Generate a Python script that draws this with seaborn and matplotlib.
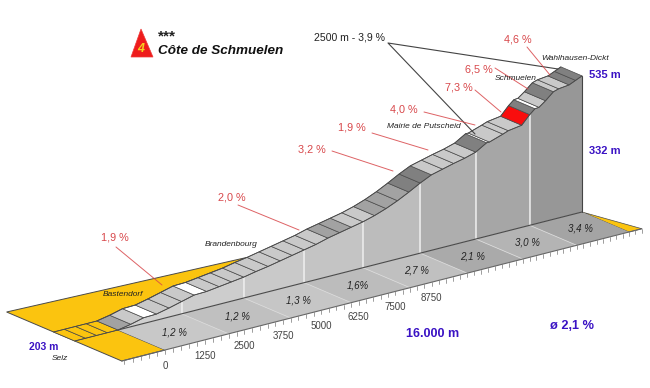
import numpy as np
import pandas as pd
import matplotlib
matplotlib.use("Agg")
import matplotlib.pyplot as plt
import seaborn as sns

# Road profile (km from start, altitude in m)
road_km = [-1.33, -1.0, -0.66, -0.33, 0.0, 0.4, 0.8, 1.2, 1.6, 2.0, 2.4, 2.8, 3.2, 3.6, 4.0,
           4.4, 4.8, 5.2, 5.6, 6.0, 6.4, 6.8, 7.2, 7.6, 8.0, 8.4, 8.8, 9.2, 9.6, 10.0,
           10.4, 10.8, 11.2, 11.6, 12.0, 12.4, 12.5, 13.0, 13.2, 13.7, 14.0, 14.2, 14.35,
           14.6, 14.9, 15.1, 15.5, 15.75, 16.0]
road_alt = [203, 203, 203, 203, 203, 209, 217, 218, 225, 233, 241, 242, 246, 250, 254,
            260, 265, 271, 277, 283, 289, 297, 303, 309, 315, 323, 333, 345, 359, 374,
            387, 394, 401, 407, 415, 431, 431, 442, 447, 452, 473, 484, 485,
            497, 514, 518, 521, 528, 535]
# slab shade: y yellow, l light, m mid, d dark, w white, r red
road_shade = list("yyyy" + "mlwll" + "lwlll" + "lllll" + "llmml" + "lmmmd" + "dllll" + "dw" + "ll" + "lr" + "dw" + "ld" + "lld" + "d")

segment_km = [0, 2, 4, 6, 8, 10, 12, 14, 16]
segment_pct = ["1,2 %", "1,2 %", "1,3 %", "1,6%", "2,7 %", "2,1 %", "3,0 %", "3,4 %"]
tick_km = [0, 1.25, 2.5, 3.75, 5.0, 6.25, 7.5, 8.75]
tick_labels = ["0", "1250", "2500", "3750", "5000", "6250", "7500", "8750"]

grade_labels = ["1,9 %", "2,0 %", "3,2 %", "1,9 %", "4,0 %", "7,3 %", "6,5 %", "4,6 %"]
place_names = ["Selz", "Bastendorf", "Brandenbourg", "Mairie de Putscheid", "Schmuelen", "Wahlhausen-Dickt"]

SHADES = {"y": "#fbc40f", "l": "#c9c9c9", "m": "#a2a2a2", "d": "#808080", "w": "#ffffff", "r": "#f90d0d"}
WALLS = ["#d0d0d0", "#cdcdcd", "#c9c9c9", "#c4c4c4", "#bcbcbc", "#aeaeae", "#a6a6a6", "#979797"]
FLOORS = ["#c8c8c8", "#c0c0c0", "#c6c6c6", "#bcbcbc", "#c0c0c0", "#aaaaaa", "#b4b4b4", "#a4a4a4"]
RED = "#d8474a"
BLUE = "#3a12c4"

FAR = -0.45

sns.set_theme(style="white")
plt.rcParams["font.family"] = ["Liberation Sans", "DejaVu Sans"]


def project(km, alt=203, lat=0.0):
    # fake 3d: distance, altitude and sideways offset to picture pixels
    km = np.asarray(km, dtype=float)
    alt = np.asarray(alt, dtype=float)
    bx = 118 + 32.25 * km - 0.203 * km ** 2
    by = 330 - (bx - 118) * 0.2543
    return bx + 47 * lat, by + 20 * lat - (alt - 203) * 0.41


def poly(ax, pts, **kw):
    ax.fill([p[0] for p in pts], [p[1] for p in pts], **kw)


fig, ax = plt.subplots(figsize=(6.5, 3.88), dpi=100)
ax.set_xlim(0, 650)
ax.set_ylim(388, 0)
ax.axis("off")
fig.subplots_adjust(0, 0, 1, 1)

km = np.array(road_km)
alt = np.array(road_alt)
EDGE = "#4a4a4a"

# yellow ground
top_idx = road_km.index(4.8)
far_x, far_y = project(km, alt, FAR)
start_idx = road_km.index(0.0)
ground = [project(road_km[0], 203, -1.45), (far_x[top_idx], far_y[top_idx])]
ground += list(zip(far_x[top_idx:start_idx - 1:-1], far_y[top_idx:start_idx - 1:-1]))
ground += [project(0), project(0, 203, 1), project(road_km[0], 203, 1)]
poly(ax, ground, fc=SHADES["y"], ec=EDGE, lw=0.7, zorder=1)
poly(ax, [project(16), project(16.5, 203, 1), project(16, 203, 1)], fc=SHADES["y"], ec=EDGE, lw=0.5, zorder=1)

# floor segments and the walls above them
for i in range(8):
    a, b = segment_km[i], segment_km[i + 1]
    poly(ax, [project(a), project(b), project(b, 203, 1), project(a, 203, 1)], fc=FLOORS[i], ec="none", zorder=2)
    sel = (km >= a) & (km <= b)
    tx, ty = project(km[sel], alt[sel])
    pts = [project(a)] + list(zip(tx, ty)) + [project(b)]
    poly(ax, pts, fc=WALLS[i], ec="none", zorder=3)
    # white seams
    if i > 0:
        ax.plot(*zip(project(a), project(a, 203, 1)), color="#d8d8d8", lw=0.6, zorder=4)
        ax.plot(*zip(project(a), project(a, alt[km == a][0])), color="#eeeeee", lw=1.1, zorder=4)
    x, y = project((a + b) / 2, 203, 0.52)
    ax.text(x, y, segment_pct[i], fontsize=7, style="italic", color="#222222", ha="center", va="center", zorder=6)

# road slabs
near_x, near_y = project(km, alt)
for i in range(len(km) - 1):
    pts = [(near_x[i], near_y[i]), (near_x[i + 1], near_y[i + 1]), (far_x[i + 1], far_y[i + 1]), (far_x[i], far_y[i])]
    poly(ax, pts, fc=SHADES[road_shade[i]], ec=EDGE, lw=0.5, zorder=5)

# edges
base = pd.DataFrame({"x": project(km[km >= 0])[0], "y": project(km[km >= 0])[1]})
sns.lineplot(data=base, x="x", y="y", ax=ax, color="#4a4a4a", lw=0.8, estimator=None, sort=False, zorder=4)
edge = pd.DataFrame({"x": near_x, "y": near_y})
sns.lineplot(data=edge, x="x", y="y", ax=ax, color=EDGE, lw=0.6, estimator=None, sort=False, zorder=6)
edge_far = pd.DataFrame({"x": far_x, "y": far_y})
sns.lineplot(data=edge_far, x="x", y="y", ax=ax, color=EDGE, lw=0.6, estimator=None, sort=False, zorder=6)
ex, ey = project(16, 535)
bx, by = project(16)
ax.plot([ex, bx], [ey, by], color="#444444", lw=0.8, zorder=6)

# front axis and ticks
ax.plot(*zip(project(road_km[0], 203, 1), project(16.5, 203, 1)), color="#666666", lw=0.8, zorder=6)
for t in np.arange(-1.25, 16.6, 0.25):
    x, y = project(t, 203, 1)
    ax.plot([x, x], [y, y + 4], color="#777777", lw=0.5, zorder=6)
for t, lab in zip(tick_km, tick_labels):
    x, y = project(t, 203, 1)
    ax.text(x, y + 16, lab, fontsize=7, color="#444444", ha="center", va="center")

# red gradient labels with leader lines
label_at = [(115, 238), (232, 197), (312, 150), (352, 128), (404, 110), (459, 87), (479, 69), (518, 39)]
leader_to = [(162, 285), (299, 230), (393, 171), (428, 150), (475, 125), (501, 112), (528, 89), (550, 75)]
leader_from = [(116, 247), (238, 205), (332, 151), (372, 133), (424, 112), (475, 90), (495, 68), (527, 47)]
for lab, p, a, b in zip(grade_labels, label_at, leader_from, leader_to):
    ax.text(p[0], p[1], lab, fontsize=7.8, color=RED, ha="center", va="center", zorder=8)
    ax.plot([a[0], b[0]], [a[1], b[1]], color=RED, lw=0.7, alpha=0.85, zorder=8)

# place names
name_at = [(60, 359), (123, 295), (231, 244), (424, 127), (516, 79), (575, 58)]
for name, p in zip(place_names, name_at):
    ax.text(p[0], p[1], name, fontsize=6, style="italic", color="#222222", ha="center", va="center", zorder=8)

# blue numbers
for s, x, y, fs in [("535 m", 605, 75, 8), ("332 m", 605, 151, 8), ("203 m", 44, 347, 7.5),
                    ("16.000 m", 433, 334, 9), ("ø 2,1 %", 572, 326, 9.2)]:
    ax.text(x, y, s, fontsize=fs, fontweight="bold", color=BLUE, ha="center", va="center", zorder=8)

# climb title
poly(ax, [(141, 29), (131, 57), (153, 57)], fc="#ee1c1c", ec="#ee3a3a", lw=0.5, zorder=8)
ax.text(141, 49, "4", fontsize=9, fontweight="bold", style="italic", color="#f5d020", ha="center", va="center", zorder=9)
ax.text(158, 36, "***", fontsize=11, fontweight="bold", color="#222222", ha="left", va="center", zorder=9)
ax.text(158, 51, "Côte de Schmuelen", fontsize=9.7, fontweight="bold", style="italic", color="#111111", ha="left", va="center", zorder=9)

# 2500 m bracket
ax.text(349, 37, "2500 m - 3,9 %", fontsize=7.6, color="#222222", ha="center", va="center", zorder=9)
ax.plot([475, 388, 558], [134, 43, 69], color="#444444", lw=0.8, zorder=7)

ax.set_xlabel("")
ax.set_ylabel("")
fig.savefig("out.png", dpi=100)
